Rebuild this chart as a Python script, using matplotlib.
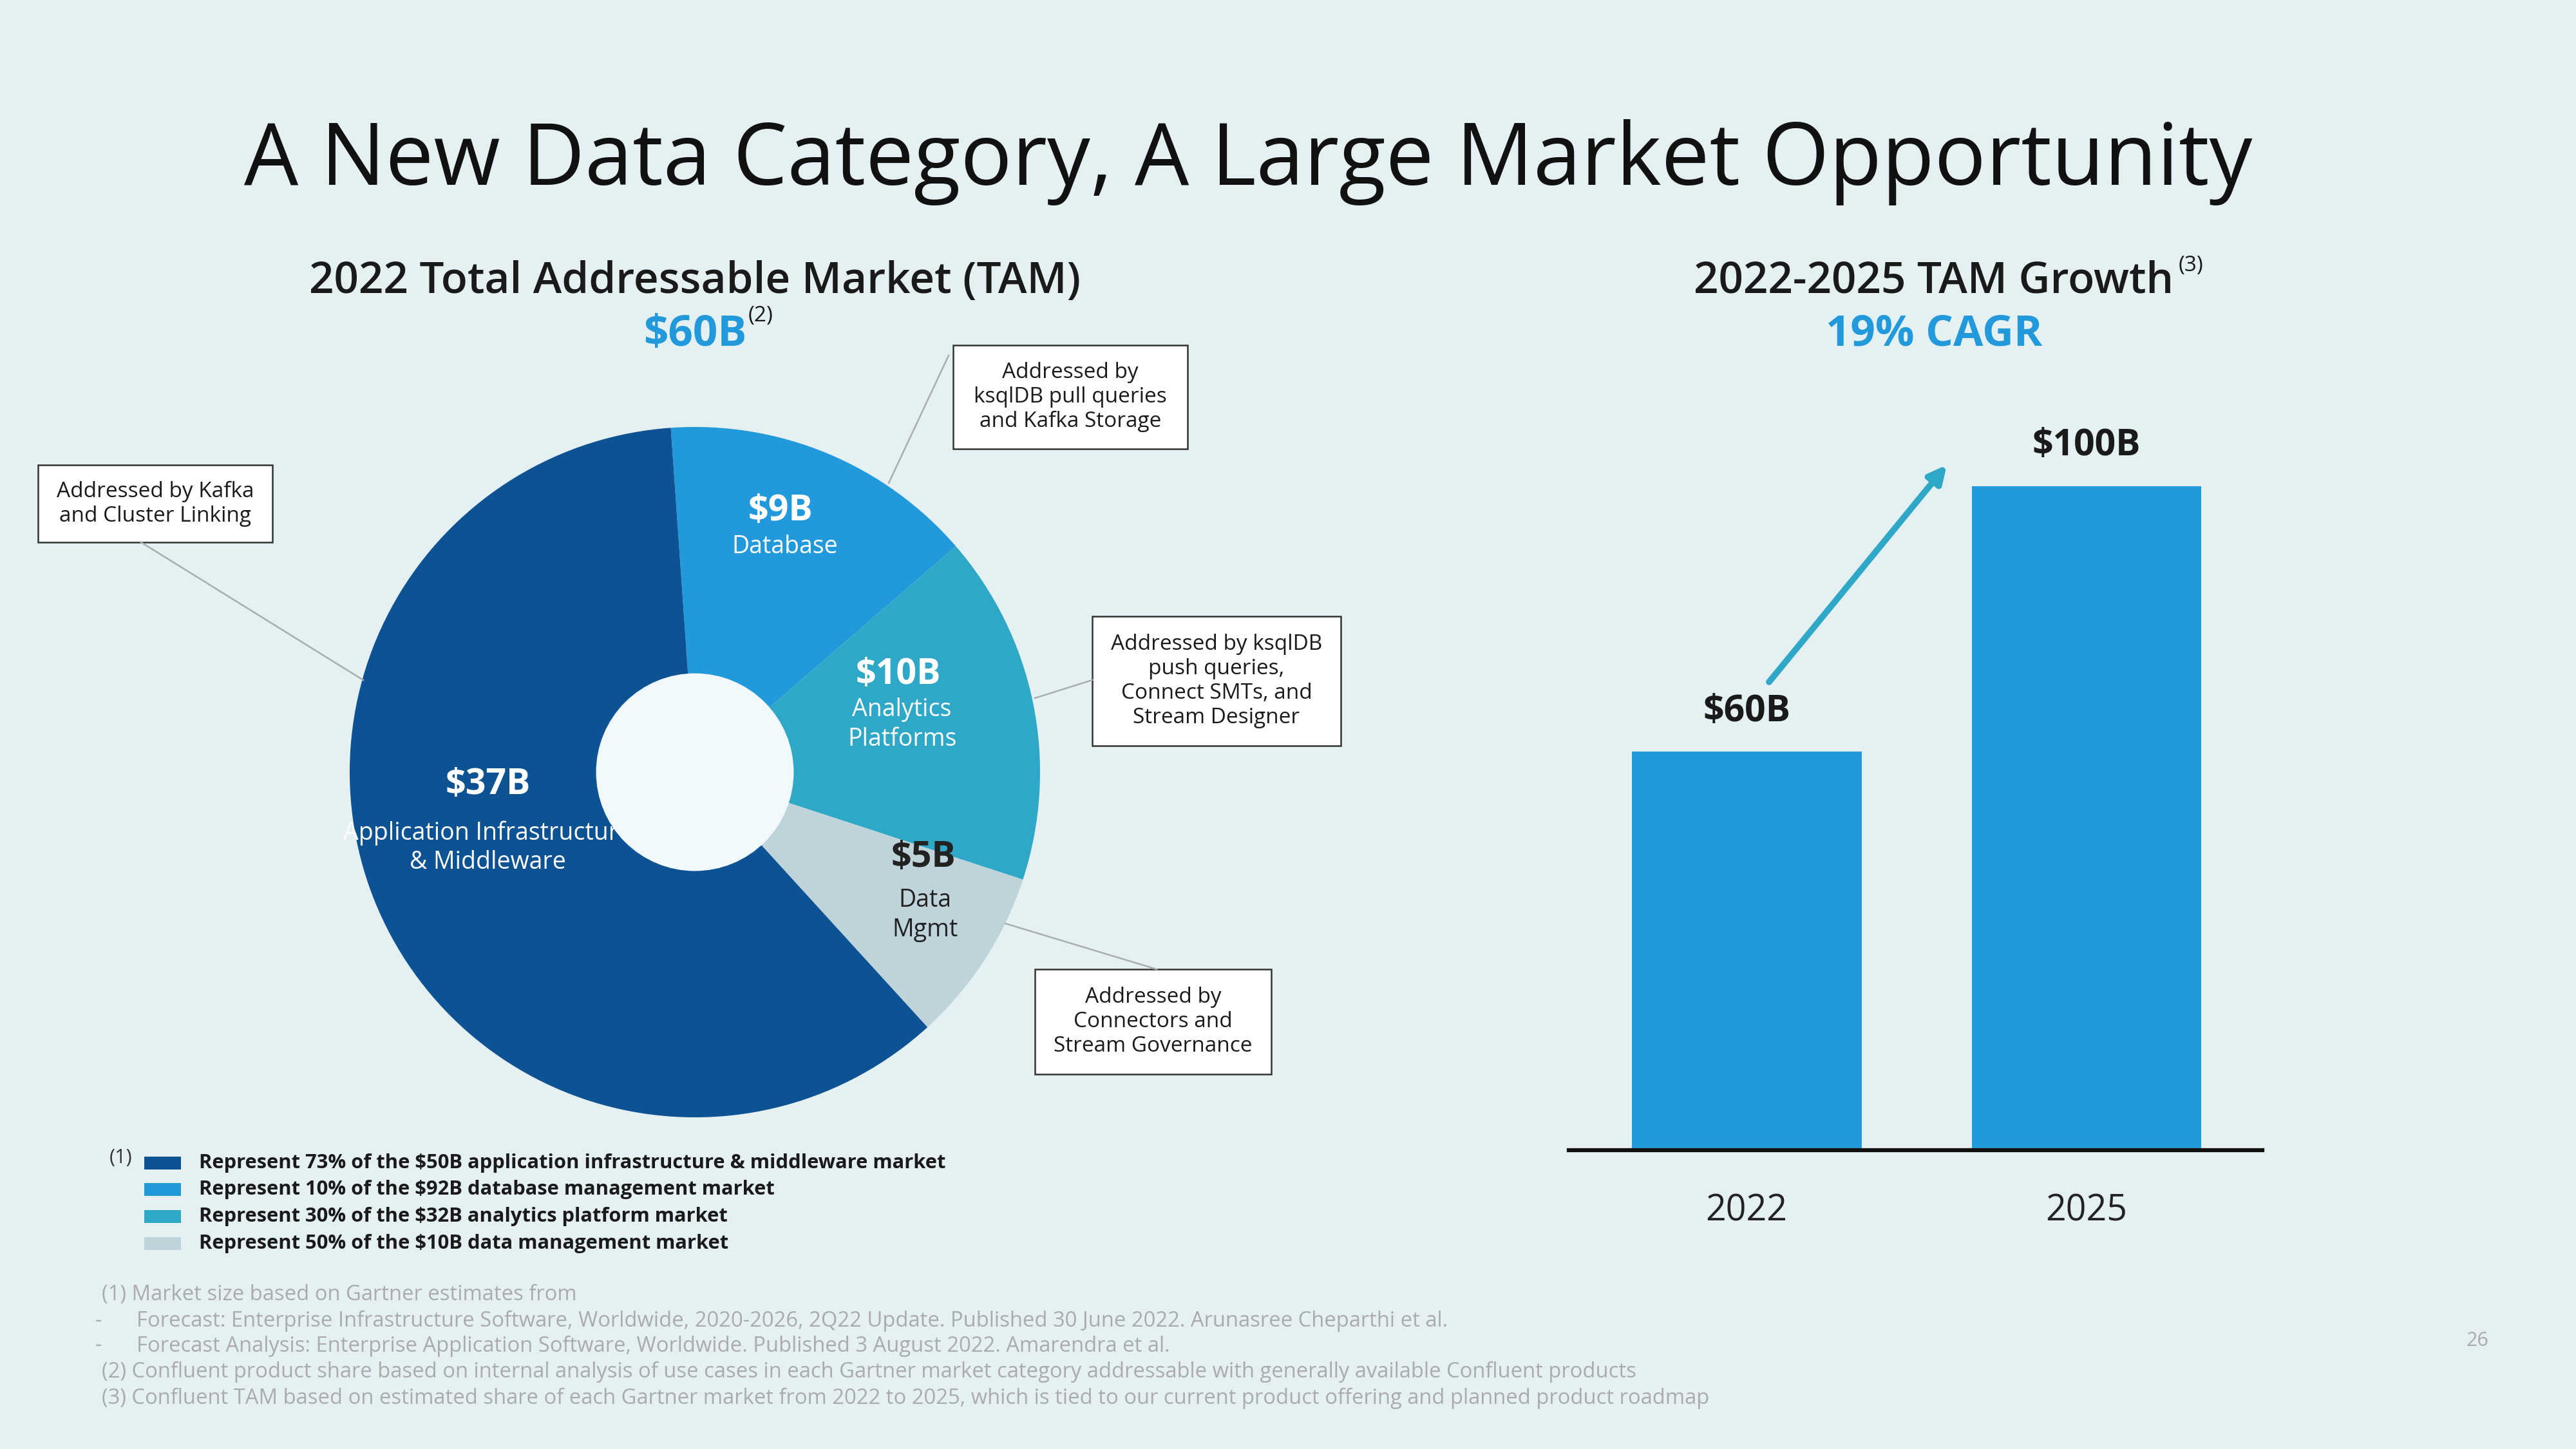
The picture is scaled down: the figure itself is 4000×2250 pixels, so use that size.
import numpy as np
import matplotlib
matplotlib.use('Agg')
import matplotlib.pyplot as plt
from matplotlib.patches import Circle, Rectangle
from matplotlib.lines import Line2D

plt.rcParams['font.family'] = ['Open Sans', 'DejaVu Sans']

# ---- data ----
pie_values = [9, 10, 5, 37]      # $B, TAM 2022
pie_amounts = ['$9B', '$10B', '$5B', '$37B']
pie_names = ['Database', 'Analytics\nPlatforms', 'Data\nMgmt',
             'Application Infrastructure\n& Middleware']
pie_colors = ['#2299DA', '#2EA8C6', '#BFD4DA', '#0D5394']
pie_text_colors = ['white', 'white', '#222222', 'white']

bar_years = ['2022', '2025']
bar_values = [60, 100]
bar_labels = ['$60B', '$100B']

legend_texts = [
    'Represent 73% of the $50B application infrastructure & middleware market',
    'Represent 10% of the $92B database management market',
    'Represent 30% of the $32B analytics platform market',
    'Represent 50% of the $10B data management market',
]
legend_colors = ['#0D5394', '#2299DA', '#2EA8C6', '#BFD4DA']

callouts = [
    'Addressed by Kafka\nand Cluster Linking',
    'Addressed by\nksqlDB pull queries\nand Kafka Storage',
    'Addressed by ksqlDB\npush queries,\nConnect SMTs, and\nStream Designer',
    'Addressed by\nConnectors and\nStream Governance',
]

footnotes = [
    '(1) Market size based on Gartner estimates from',
    '-      Forecast: Enterprise Infrastructure Software, Worldwide, 2020-2026, 2Q22 Update. Published 30 June 2022. Arunasree Cheparthi et al.',
    '-      Forecast Analysis: Enterprise Application Software, Worldwide. Published 3 August 2022. Amarendra et al.',
    '(2) Confluent product share based on internal analysis of use cases in each Gartner market category addressable with generally available Confluent products',
    '(3) Confluent TAM based on estimated share of each Gartner market from 2022 to 2025, which is tied to our current product offering and planned product roadmap',
]

BG = '#E5F0F2'
W, H = 4000, 2250

fig = plt.figure(figsize=(40, 22.5), dpi=100)
fig.patch.set_facecolor(BG)

def rect(x0, y0, x1, y1):
    # pixel box (top-left origin) -> figure fraction
    return [x0 / W, 1 - y1 / H, (x1 - x0) / W, (y1 - y0) / H]

# ---- pie ----
cx, cy, R = 1079, 1199, 536
pad = 600
axp = fig.add_axes(rect(cx - pad, cy - pad, cx + pad, cy + pad))
axp.pie(pie_values, colors=pie_colors, startangle=94, counterclock=False,
        radius=1, wedgeprops=dict(linewidth=0))
axp.set_xlim(-pad / R, pad / R)   # after pie(), which resets limits
axp.set_ylim(-pad / R, pad / R)
axp.set_aspect('equal')
axp.axis('off')
axp.add_patch(Circle((0, 0), 0.285, color='#F2F9FC', zorder=5))

amount_pos = [(0.248, 0.757), (0.59, 0.282), (0.662, -0.248), (-0.60, -0.037)]
name_pos = [(0.261, 0.653), (0.60, 0.138), (0.667, -0.414), (-0.60, -0.218)]
for i in range(len(pie_values)):
    axp.text(*amount_pos[i], pie_amounts[i], ha='center', va='center',
             fontsize=40, fontweight='bold', color=pie_text_colors[i], zorder=3)
    axp.text(*name_pos[i], pie_names[i], ha='center', va='center',
             fontsize=27, color=pie_text_colors[i], linespacing=1.25, zorder=3)

# ---- bars ----
base_y = 1786
axb = fig.add_axes(rect(2436, 600, 3513, base_y))
axb.set_facecolor('none')
x = np.arange(len(bar_values))
axb.bar(x, bar_values, width=0.676, color='#2299DA')
axb.set_xlim(-0.523, 1.517)
axb.set_ylim(0, 115)
for s in ['top', 'right', 'left']:
    axb.spines[s].set_visible(False)
axb.spines['bottom'].set_linewidth(4.5)
axb.spines['bottom'].set_color('#111111')
axb.set_yticks([])
axb.set_xticks(x)
axb.set_xticklabels(bar_years, fontsize=40, color='#222222')
axb.tick_params(axis='x', length=0, pad=48)
for xi, v, lab in zip(x, bar_values, bar_labels):
    axb.annotate(lab, (xi, v), xytext=(0, 24), textcoords='offset points',
                 ha='center', va='bottom', fontsize=41, fontweight='bold',
                 color='#1A1A1A')

# ---- overlay in pixel coordinates ----
ov = fig.add_axes([0, 0, 1, 1], zorder=10)
ov.set_xlim(0, W)
ov.set_ylim(H, 0)
ov.axis('off')
ov.patch.set_alpha(0)

ov.text(1938, 252, 'A New Data Category, A Large Market Opportunity',
        ha='center', va='center', fontsize=96, color='#111111')

ov.text(1079, 437, '2022 Total Addressable Market (TAM)', ha='center', va='center',
        fontsize=48.5, fontweight='semibold', color='#1A1A1A')
ov.text(1079, 519, '$60B', ha='center', va='center', fontsize=48.5,
        fontweight='bold', color='#2299DA')
ov.text(1162, 490, '(2)', ha='left', va='center', fontsize=24, color='#1A1A1A')

ov.text(3003, 437, '2022-2025 TAM Growth', ha='center', va='center',
        fontsize=48.5, fontweight='semibold', color='#1A1A1A')
ov.text(3383, 413, '(3)', ha='left', va='center', fontsize=24, color='#1A1A1A')
ov.text(3003, 519, '19% CAGR', ha='center', va='center', fontsize=48.5,
        fontweight='bold', color='#2299DA')

# growth arrow
ov.annotate('', xy=(3023, 722), xytext=(2747, 1059),
            arrowprops=dict(arrowstyle='-|>', color='#2EA8C6', lw=7,
                            mutation_scale=40, shrinkA=0, shrinkB=0))

# callout boxes and leader lines
boxes = [(59, 722, 423, 842), (1480, 536, 1844, 697),
         (1696, 957, 2082, 1158), (1607, 1505, 1974, 1668)]
leaders = [((219, 842), (564, 1056)), ((1473, 552), (1380, 750)),
           ((1696, 1056), (1607, 1084)), ((1796, 1505), (1561, 1434))]
for txt, (x0, y0, x1, y1), (p, q) in zip(callouts, boxes, leaders):
    ov.add_line(Line2D([p[0], q[0]], [p[1], q[1]], color='#A8ADB0', lw=1.8))
    ov.add_patch(Rectangle((x0, y0), x1 - x0, y1 - y0, facecolor='white',
                           edgecolor='#333333', lw=1.8))
    ov.text((x0 + x1) / 2, (y0 + y1) / 2, txt, ha='center', va='center',
            fontsize=24, color='#1A1A1A', linespacing=1.2)

# legend
ov.text(170, 1798, '(1)', ha='left', va='center', fontsize=22, color='#333333')
leg_y = [1806, 1847, 1889, 1931]
for y, c, t in zip(leg_y, legend_colors, legend_texts):
    ov.add_patch(Rectangle((224, y - 10), 57, 20, facecolor=c, edgecolor='none'))
    ov.text(309, y, t, ha='left', va='center', fontsize=22.2,
            fontweight='bold', color='#1A1A1A')

# footnotes
foot_y = [2011, 2051, 2090, 2130, 2171]
for y, t in zip(foot_y, footnotes):
    if t.startswith('-'):
        ov.text(148, y, '-', ha='left', va='center', fontsize=23.6, color='#ABABAB')
        ov.text(212, y, t.lstrip('- '), ha='left', va='center', fontsize=23.6,
                color='#ABABAB')
    else:
        ov.text(158, y, t, ha='left', va='center', fontsize=23.6, color='#ABABAB')

ov.text(3847, 2082, '26', ha='center', va='center', fontsize=22, color='#ABABAB')

fig.savefig('out.png', dpi=100, facecolor=BG)
